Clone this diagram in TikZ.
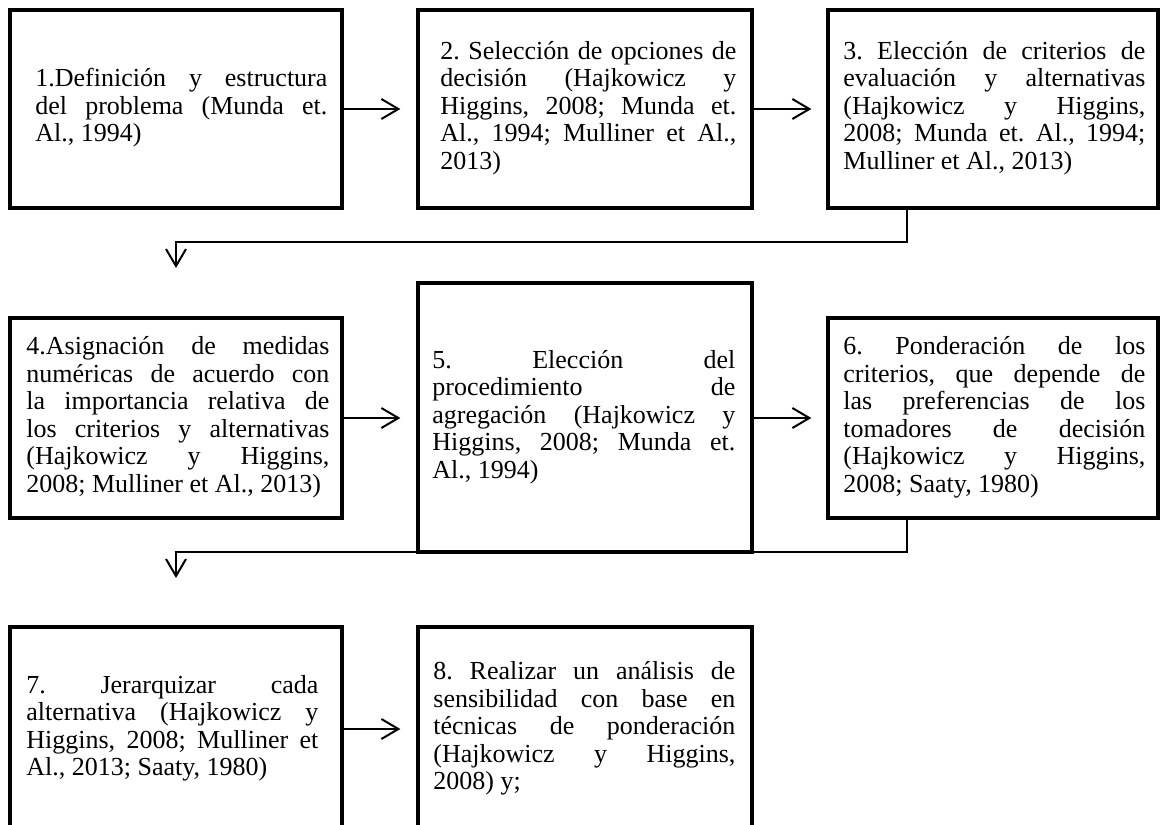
\documentclass[tikz,border=0pt]{standalone}
\usepackage{fontspec}
\setmainfont{Liberation Serif}
\usetikzlibrary{arrows.meta,calc}
\begin{document}
\tolerance=10000 \pretolerance=-1 \hbadness=10000
\hyphenpenalty=10000 \exhyphenpenalty=10000
\setlength{\parindent}{0pt}
\frenchspacing
\begin{tikzpicture}[x=0.5pt,y=-0.5pt,
  stage/.style={draw, rectangle, line width=1.65pt, inner sep=0pt},
  label/.style={anchor=west, inner sep=0pt, align=justify,
    font=\fontsize{13}{13.75}\selectfont},
  flow/.style={line width=1pt, -{Straight Barb[length=8.5pt,width=10pt]}},
  elbow/.style={line width=1pt, line join=miter, -{Straight Barb[length=8.5pt,width=10pt]}}]
\useasboundingbox (0,0) rectangle (1160,824);

% frames
\node[stage, minimum width=166pt, minimum height=99pt]    (b1) at (176,109) {};
\node[stage, minimum width=167pt, minimum height=99pt]    (b2) at (585,109) {};
\node[stage, minimum width=165pt, minimum height=99pt]    (b3) at (993,109) {};
\node[stage, minimum width=166pt, minimum height=100pt]   (b4) at (176,418) {};
\node[stage, minimum width=167pt, minimum height=134.5pt] (b5) at (585,417.5) {};
\node[stage, minimum width=165pt, minimum height=100pt]   (b6) at (993,418) {};
\node[stage, minimum width=166pt, minimum height=102pt]   (b7) at (176,729) {};
\node[stage, minimum width=167pt, minimum height=102pt]   (b8) at (585,729) {};

% texts
\node[label, text width=146pt] (t1) at (35,109) {\strut 1.Definición y estructura\linebreak
 del problema (Munda et.\linebreak Al., 1994)\strut};
\node[label, text width=148pt] (t2) at (440,109) {\strut 2. Selección de opciones de\linebreak
 decisión (Hajkowicz y\linebreak Higgins, 2008; Munda et.\linebreak
 Al., 1994; Mulliner et Al.,\linebreak 2013)\strut};
\node[label, text width=151pt] (t3) at (843,109) {\strut 3. Elección de criterios de\linebreak
 evaluación y alternativas\linebreak (Hajkowicz y Higgins,\linebreak
 2008; Munda et. Al., 1994;\linebreak Mulliner et Al., 2013)\strut};
\node[label, text width=151.5pt] (t4) at (26,418) {\strut 4.Asignación de medidas\linebreak
 numéricas de acuerdo con\linebreak la importancia relativa de\linebreak
 los criterios y alternativas\linebreak (Hajkowicz y Higgins,\linebreak
 2008; Mulliner et Al., 2013)\strut};
\node[label, text width=151.5pt] (t5) at (432,417.5) {\strut 5. Elección del\linebreak
 procedimiento de\linebreak agregación (Hajkowicz y\linebreak
 Higgins, 2008; Munda et.\linebreak Al., 1994)\strut};
\node[label, text width=151pt] (t6) at (843,418) {\strut 6. Ponderación de los\linebreak
 criterios, que depende de\linebreak las preferencias de los\linebreak
 tomadores de decisión\linebreak (Hajkowicz y Higgins,\linebreak
 2008; Saaty, 1980)\strut};
\node[label, text width=146pt] (t7) at (26,729) {\strut 7. Jerarquizar cada\linebreak
 alternativa (Hajkowicz y\linebreak Higgins, 2008; Mulliner et\linebreak
 Al., 2013; Saaty, 1980)\strut};
\node[label, text width=151pt] (t8) at (433,729) {\strut 8. Realizar un análisis de\linebreak
 sensibilidad con base en\linebreak técnicas de ponderación\linebreak
 (Hajkowicz y Higgins,\linebreak 2008) y;\strut};

% straight arrows within rows
\draw[flow, shorten >=8pt] (b1.east) -- (b2.west);
\draw[flow, shorten >=7.5pt] (b2.east) -- (b3.west);
\draw[flow, shorten >=8pt] (b4.east) -- (b4.east -| b5.west);
\draw[flow, shorten >=7.5pt] (b4.east -| b5.east) -- (b4.east -| b6.west);
\draw[flow, shorten >=8pt] (b7.east) -- (b8.west);

% elbow connectors between rows
\coordinate (h1) at (176,242);
\coordinate (d1) at (176,268);
\coordinate (h2) at (176,552);
\coordinate (d2) at (176,578);
\draw[elbow] ($(b3.south)+(-86,0)$) |- (h1) -- (d1);
\draw[elbow] ($(b6.south)+(-86,0)$) |- (h2) -- (d2);
\end{tikzpicture}
\end{document}
